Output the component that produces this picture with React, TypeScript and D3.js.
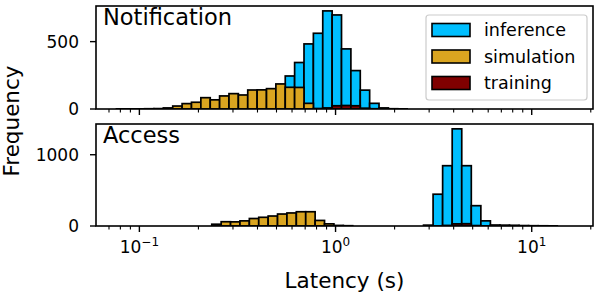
import React from 'react';
import * as d3 from 'd3';

// histogram counts per log-spaced bin; lo = log10 of first bin's left edge, step in decades
const SERIES = ['inference', 'simulation', 'training'];
const COLORS = ['#00bfff', '#daa520', '#800000'];

const notifInference = [5, 20, 60, 130, 245, 345, 483, 562, 728, 698, 446, 285, 140, 42, 8, 2, 1];
const notifSimulation = [1, 1, 1, 2, 3, 8, 22, 40, 50, 84, 68, 97, 114, 104, 141, 142, 151, 186, 161, 160, 42, 2];
const notifTraining = [3, 8, 24, 26, 24, 6, 2];

const accessInference = [12, 446, 846, 1363, 846, 285, 72, 14, 12, 10, 6, 4, 3, 2];
const accessSimulation = [25, 60, 58, 72, 105, 122, 140, 168, 183, 200, 200, 78, 30, 8, 4];
const accessTraining = [8, 30, 32, 6, 2];

const notifBins = [
  { lo: -0.4476, step: 0.0478, counts: notifInference },
  { lo: -1.1168, step: 0.0478, counts: notifSimulation },
  { lo: -0.113, step: 0.0478, counts: notifTraining },
];
const accessBins = [
  { lo: 0.4485, step: 0.0487, counts: accessInference },
  { lo: -0.631, step: 0.0479, counts: accessSimulation },
  { lo: 0.5459, step: 0.0487, counts: accessTraining },
];

const PANELS = [
  { title: 'Notification', bins: notifBins, yTicks: [0, 500], top: 6, bottom: 109 },
  { title: 'Access', bins: accessBins, yTicks: [0, 1000], top: 124, bottom: 226 },
];

const X_DOMAIN: [number, number] = [0.0601, 20.53];
const X_MAJOR = [-1, 0, 1];
const FONT = 'DejaVu Sans, sans-serif';

const W = 598;
const H = 297;
const LEFT = 96;
const RIGHT = 593;

function Panel({ p, x, showLabels }: any) {
  const ymax = d3.max(p.bins.flatMap((b: any) => b.counts)) as number;
  const y = d3.scaleLinear().domain([0, ymax * 1.05]).range([p.bottom, p.top]);

  const minor: number[] = [];
  for (let e = -2; e <= 1; e++) {
    for (let m = 2; m <= 9; m++) {
      const v = m * Math.pow(10, e);
      if (v >= X_DOMAIN[0] && v <= X_DOMAIN[1]) minor.push(v);
    }
  }

  return (
    <g>
      <defs>
        <clipPath id={`clip-${p.title}`}>
          <rect x={LEFT} y={p.top} width={RIGHT - LEFT} height={p.bottom - p.top} />
        </clipPath>
      </defs>
      <g clipPath={`url(#clip-${p.title})`}>
        {p.bins.map((b: any, si: number) => (
          <g key={si}>
            {b.counts.map((c: number, i: number) => {
              const x0 = x(Math.pow(10, b.lo + i * b.step));
              const x1 = x(Math.pow(10, b.lo + (i + 1) * b.step));
              return (
                <rect
                  key={i}
                  x={x0}
                  y={y(c)}
                  width={x1 - x0}
                  height={y(0) - y(c)}
                  fill={COLORS[si]}
                  stroke="#000"
                  strokeWidth={1.7}
                />
              );
            })}
          </g>
        ))}
      </g>
      <rect x={LEFT} y={p.top} width={RIGHT - LEFT} height={p.bottom - p.top} fill="none" stroke="#000" strokeWidth={1.6} />
      <text x={103} y={p.top + 19} fontFamily={FONT} fontSize={22.5} fill="#000">{p.title}</text>
      {p.yTicks.map((t: number) => (
        <g key={t}>
          <line x1={LEFT - 6} x2={LEFT} y1={y(t)} y2={y(t)} stroke="#000" strokeWidth={1.4} />
          <text x={79} y={y(t)} dy="0.36em" textAnchor="end" fontFamily={FONT} fontSize={17} fill="#000">{t}</text>
        </g>
      ))}
      {X_MAJOR.map((e) => (
        <g key={e}>
          <line x1={x(Math.pow(10, e))} x2={x(Math.pow(10, e))} y1={p.bottom} y2={p.bottom + 6} stroke="#000" strokeWidth={1.4} />
          {showLabels && (
            <text x={x(Math.pow(10, e))} y={p.bottom + 27} textAnchor="middle" fontFamily={FONT} fontSize={17} fill="#000">
              10<tspan dy={-7} fontSize={12}>{e < 0 ? `\u2212${-e}` : e}</tspan>
            </text>
          )}
        </g>
      ))}
      {minor.map((v) => (
        <line key={v} x1={x(v)} x2={x(v)} y1={p.bottom} y2={p.bottom + 3.5} stroke="#000" strokeWidth={1.1} />
      ))}
    </g>
  );
}

export default function App() {
  const x = d3.scaleLog().domain(X_DOMAIN).range([LEFT, RIGHT]);
  const legendY = [30, 56.5, 83];

  return (
    <div style={{ position: 'fixed', left: 0, top: 0 }}>
      <svg width={W} height={H} style={{ display: 'block', background: '#fff' }}>
        {PANELS.map((p, i) => (
          <Panel key={p.title} p={p} x={x} showLabels={i === PANELS.length - 1} />
        ))}
        <g>
          <rect x={426} y={15} width={161} height={85} rx={3} fill="#fff" fillOpacity={0.8} stroke="#ccc" strokeWidth={1.2} />
          {SERIES.map((s, i) => (
            <g key={s}>
              <rect x={432} y={legendY[i] - 6.5} width={38} height={13} fill={COLORS[i]} stroke="#000" strokeWidth={1.6} />
              <text x={484} y={legendY[i]} dy="0.36em" fontFamily={FONT} fontSize={17.5} fill="#000">{s}</text>
            </g>
          ))}
        </g>
        <text x={(LEFT + RIGHT) / 2} y={288} textAnchor="middle" fontFamily={FONT} fontSize={21.5} fill="#000">Latency (s)</text>
        <text transform={`translate(19,121) rotate(-90)`} textAnchor="middle" fontFamily={FONT} fontSize={21.5} fill="#000">Frequency</text>
      </svg>
    </div>
  );
}
